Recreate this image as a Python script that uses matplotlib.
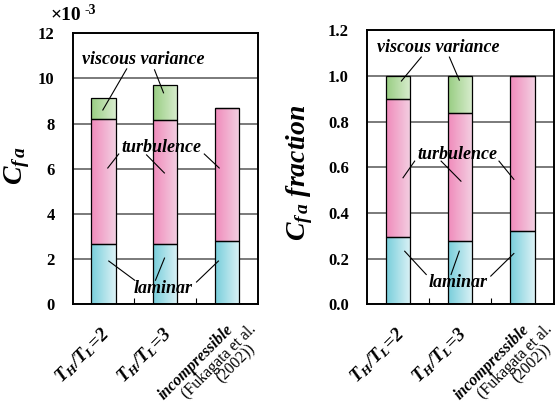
import numpy as np
import matplotlib
matplotlib.use("Agg")
import matplotlib.pyplot as plt
from matplotlib.colors import LinearSegmentedColormap

plt.rcParams['font.family'] = 'Liberation Serif'
plt.rcParams['font.weight'] = 'bold'
plt.rcParams['mathtext.fontset'] = 'custom'
plt.rcParams['mathtext.it'] = 'Liberation Serif:bold:italic'
plt.rcParams['mathtext.rm'] = 'Liberation Serif:bold:italic'
plt.rcParams['mathtext.bf'] = 'Liberation Serif:bold'
plt.rcParams['mathtext.sf'] = 'Liberation Serif'

# data (Cf in units of 1e-3)
cases = [r'$T_H/T_L\!=\!2$', r'$T_H/T_L\!=\!3$', 'incompressible']
laminar = [2.68, 2.68, 2.78]
turbulence = [5.52, 5.46, 5.90]
viscous = [0.91, 1.55, 0.0]

laminar_frac = [0.295, 0.278, 0.320]
turbulence_frac = [0.605, 0.562, 0.680]
viscous_frac = [0.100, 0.160, 0.0]

ref_note = ['(Fukagata et al.', '(2002))']

colors = {
    'laminar': ('#78cedb', '#dcf2f6'),
    'turbulence': ('#f08bbb', '#f3d0e2'),
    'viscous': ('#98cd82', '#d9edcf'),
}


def grad_bars(ax, bars, c0, c1):
    cmap = LinearSegmentedColormap.from_list('g', [c0, c1])
    for b in bars:
        if b.get_height() <= 0:
            continue
        x0, y0 = b.get_xy()
        w, h = b.get_width(), b.get_height()
        im = ax.imshow(np.linspace(0, 1, 64).reshape(1, -1), cmap=cmap,
                       extent=[x0, x0 + w, y0, y0 + h], aspect='auto',
                       zorder=2.5, interpolation='bilinear')
        im.set_clip_path(b)


def stacked(ax, lam, tur, vis):
    x = np.arange(len(lam))
    w = 0.39
    lam = np.array(lam)
    tur = np.array(tur)
    vis = np.array(vis)
    kw = dict(width=w, facecolor='none', edgecolor='black', linewidth=0.9, zorder=3)
    b1 = ax.bar(x, lam, **kw)
    b2 = ax.bar(x, tur, bottom=lam, **kw)
    b3 = ax.bar(x, vis, bottom=lam + tur, **kw)
    grad_bars(ax, b1, *colors['laminar'])
    grad_bars(ax, b2, *colors['turbulence'])
    grad_bars(ax, b3, *colors['viscous'])


def style(ax, ymax, step):
    ax.set_xlim(-0.5, 2.5)
    ax.set_ylim(0, ymax)
    ax.set_yticks(np.arange(0, ymax + step / 2, step))
    ax.yaxis.grid(True, color='#707070', linewidth=1.3, zorder=1)
    ax.set_axisbelow(True)
    for s in ax.spines.values():
        s.set_linewidth(1.4)
    ax.tick_params(axis='y', length=0, labelsize=12, pad=13)
    ax.set_xticks([0, 1, 2])
    ax.set_xticklabels([])
    ax.tick_params(axis='x', which='major', length=0)
    ax.set_xticks([0.5, 1.5], minor=True)
    ax.tick_params(axis='x', which='minor', direction='in', length=4, width=0.8)
    # rotated category labels
    tr = ax.get_xaxis_transform()
    for i, lab in enumerate(cases):
        fs = 13.5 if i < 2 else 11.5
        off = (3, -19) if i < 2 else (3, -17)
        ax.annotate(lab, xy=(i, 0), xycoords=tr, xytext=off,
                    textcoords='offset points', rotation=45, rotation_mode='anchor',
                    ha='right', va='center', fontsize=fs, style='italic',
                    fontweight='bold', annotation_clip=False)
    for txt, off in zip(ref_note, [(19.5, -16.5), (18.8, -30.5)]):
        ax.annotate(txt, xy=(2, 0), xycoords=tr, xytext=off,
                    textcoords='offset points', rotation=45, rotation_mode='anchor',
                    ha='right', va='center', fontsize=11.5, fontweight='normal',
                    annotation_clip=False)


def labels(ax, vv, tb, lm):
    tkw = dict(fontsize=13, style='italic', fontweight='bold', ha='center',
               va='center', zorder=5)
    lkw = dict(color='black', linewidth=0.8, zorder=5)
    for name, spec in (('viscous variance', vv), ('turbulence', tb), ('laminar', lm)):
        (tx, ty), lines = spec
        ax.text(tx, ty, name, **tkw)
        for (xa, ya), (xb, yb) in lines:
            ax.plot([xa, xb], [ya, yb], **lkw)


fig = plt.figure(figsize=(5.59, 4.05), dpi=100)
ax1 = fig.add_axes([0.130, 0.249, 0.331, 0.669])
ax2 = fig.add_axes([0.6565, 0.249, 0.334, 0.676])

stacked(ax1, laminar, turbulence, viscous)
style(ax1, 12, 2)
ax1.yaxis.set_major_formatter(matplotlib.ticker.FormatStrFormatter('%d'))
labels(ax1,
       ((0.65, 10.82), [((0.376, 10.42), (-0.011, 8.6)), ((0.827, 10.38), (0.973, 9.36))]),
       ((0.94, 6.92), [((0.247, 6.65), (0.069, 6.03)), ((0.698, 6.61), (0.987, 5.81)),
                       ((1.634, 6.65), (1.876, 6.03))]),
       ((0.973, 0.71), [((0.505, 1.06), (0.085, 1.91)), ((0.843, 1.06), (0.989, 2.04)),
                        ((1.508, 0.98), (1.863, 1.91))]))
ax1.set_ylabel(r'$C_{f\,a}$', fontsize=20)
ax1.yaxis.set_label_coords(-0.22, 0.51)
ax1.text(-0.035, 1.066, '×10', transform=ax1.transAxes,
         fontsize=14, ha='center', va='center')
ax1.text(0.065, 1.085, '-3', transform=ax1.transAxes,
         fontsize=10, ha='left', va='center')

stacked(ax2, laminar_frac, turbulence_frac, viscous_frac)
style(ax2, 1.2, 0.2)
ax2.yaxis.set_major_formatter(matplotlib.ticker.FormatStrFormatter('%.1f'))
labels(ax2,
       ((0.64, 1.124), [((0.372, 1.083), (0.053, 0.978)), ((0.824, 1.083), (0.983, 0.982))]),
       ((0.95, 0.656), [((0.266, 0.627), (0.079, 0.554)), ((0.691, 0.627), (1.01, 0.539)),
                        ((1.621, 0.627), (1.86, 0.547))]),
       ((0.967, 0.093), [((0.452, 0.130), (0.106, 0.232)), ((0.851, 0.130), (0.983, 0.232)),
                         ((1.489, 0.123), (1.86, 0.222))]))
ax2.set_ylabel(r'$C_{f\,a}$ fraction', fontsize=20, style='italic', fontweight='bold')
ax2.yaxis.set_label_coords(-0.278, 0.48)

fig.savefig('out.png', dpi=100)
